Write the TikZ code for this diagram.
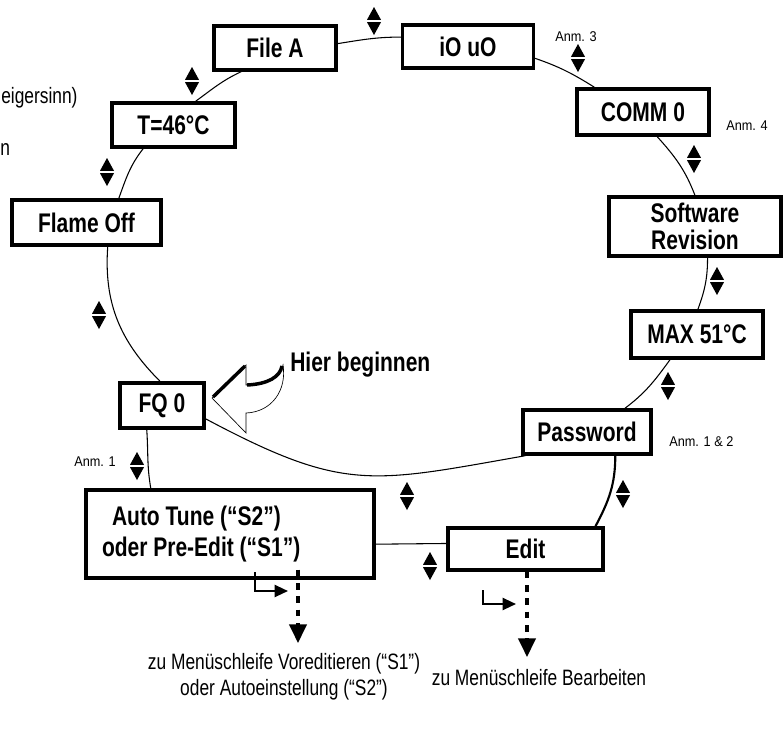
\documentclass[tikz,border=0pt]{standalone}
\usepackage{fontspec}
\setmainfont{Liberation Sans}[FakeStretch=0.78]
\newfontfamily\anmfont{Liberation Sans}[FakeStretch=0.9]
\usetikzlibrary{arrows.meta,calc}

\tikzset{
    menubox/.style={draw, line width=2.6pt, inner sep=0pt, font=\fontsize{20.2}{23}\selectfont\bfseries},
    loopline/.style={line width=0.8pt},
    anm/.style={font=\anmfont\fontsize{10.6}{12}\selectfont, inner sep=0pt, anchor=base west},
    hinweis/.style={font=\fontsize{16.7}{19.5}\selectfont, align=center, inner sep=0pt},
    dotarrow/.style={line width=2.6pt, dash pattern=on 5pt off 5pt, -{Triangle[width=13pt,length=14pt]}},
    bentarrow/.style={line width=1.6pt, -{Triangle[width=9pt,length=10pt]}},
    updown/.pic={
        \fill (-7,1.2) -- (7,1.2) -- (0,14) -- cycle;
        \fill (-7,-1.2) -- (7,-1.2) -- (0,-14) -- cycle;
    }
}

\begin{document}
\begin{tikzpicture}[x=0.75pt, y=0.75pt]
        \useasboundingbox (0,0) rectangle (783,-740);
        \fill[white] (0,0) rectangle (783,-740);

        \node[menubox, minimum width=91.5pt, minimum height=33pt] (fileA) at (275,-48) {File A};
        \node[menubox, minimum width=98pt, minimum height=32.5pt] (iouo) at (468,-46.5) {iO uO};
        \node[menubox, minimum width=99pt, minimum height=34.5pt] (comm) at (643,-112) {COMM 0};
        \node[menubox, minimum width=129pt, minimum height=44pt, align=center,
            font=\fontsize{20.2}{20.25}\selectfont\bfseries] (softrev) at (695,-226.5) {Software\\Revision};
        \node[menubox, minimum width=99pt, minimum height=35pt] (maxT) at (697,-334.5) {MAX 51°C};
        \node[menubox, minimum width=96pt, minimum height=33pt] (password) at (587,-432) {Password};
        \node[menubox, minimum width=116pt, minimum height=31.5pt] (edit) at (525.5,-549) {Edit};
        \node[menubox, minimum width=216pt, minimum height=66pt, inner xsep=12pt, text width=192pt,
            align=flush left] (autotune) at (230,-534) {\hspace*{7.5pt}Auto Tune (“S2”)\\oder Pre-Edit (“S1”)};
        \node[menubox, minimum width=63pt, minimum height=34pt] (fq) at (162,-405.5) {FQ 0};
        \node[menubox, minimum width=112pt, minimum height=34pt] (flame) at (86.5,-222.5) {Flame Off};
        \node[menubox, minimum width=92pt, minimum height=33pt] (temp) at (173.5,-125) {T=46°C};

        \draw[loopline] (fileA.4) to[out=9, in=180] (iouo.172);
        \draw[loopline] (iouo.-10) to[out=-19, in=148] (comm.153);
        \draw[loopline] (comm.-60) to[out=-48, in=111] (softrev.north);
        \draw[loopline] (softrev.-68) to[out=-90, in=70] (maxT.88);
        \draw[loopline] (maxT.-137) to[out=-126, in=37] (password.32);
        \draw[loopline] (password.-159) to[out=190, in=-28, looseness=1.25] (fq.-17);
        \draw[loopline, line width=1.6pt] (password.-40) to[out=-90, in=62] (edit.18);
        \draw[loopline] (fq.-122) to[out=-86, in=100] (autotune.150);
        \draw[loopline] (fq.95) to[out=135, in=-94] (flame.-49);
        \draw[loopline] (flame.37) to[out=70, in=232] (temp.-142);
        \draw[loopline] (temp.47) to[out=36, in=205] (fileA.-145);
        \draw[loopline] (autotune.-4) -- (edit.176);

        \foreach \mx/\my in {374/21, 578/58, 694/159, 717/281, 668/386, 623/494,
                             407/496, 430/566, 137/466, 99/315, 107/172, 192/81}
            \pic at (\mx,-\my) {updown};

        \node[font=\fontsize{20.2}{23}\selectfont\bfseries, inner sep=0pt, anchor=base west] (start) at (290,-371) {Hier beginnen};
        \filldraw[fill=white, line width=0.5pt] (212,-398) -- (246,-365) -- (246,-385)
            .. controls (268,-384) and (281,-377) .. (283,-365)
            .. controls (287,-390) and (272,-412) .. (246,-413) -- (246,-433) -- cycle;
        \draw[line width=2.6pt] (213,-397) -- (245,-366);
        \draw[line width=2.6pt] (247,-385) .. controls (268,-384) and (280,-377) .. (282,-366);

        \coordinate (vortip) at (298,-643);
        \coordinate (edittip) at (527,-657);
        \draw[dotarrow] ($(vortip |- autotune.south)+(0,10)$) -- (vortip);
        \draw[dotarrow] (edittip |- edit.south) -- (edittip);

        \coordinate (vorbend) at (255,-572);
        \coordinate (vorbendtip) at (288,-591);
        \draw[bentarrow] (vorbend) |- (vorbendtip);
        \coordinate (editbend) at (483,-590);
        \coordinate (editbendtip) at (516,-604);
        \draw[bentarrow] (editbend) |- (editbendtip);

        \node[hinweis] (vorloop) at (284,-677) {zu Menüschleife Voreditieren (“S1”)\\oder Autoeinstellung (“S2”)};
        \node[hinweis] (editloop) at (539,-678) {zu Menüschleife Bearbeiten};

        \node[anm] (anm3) at (555,-41) {Anm. 3};
        \node[anm] (anm4) at (726,-130) {Anm. 4};
        \node[anm] (anm12) at (669,-446) {Anm. 1 \& 2};
        \node[anm] (anm1) at (74,-466) {Anm. 1};

        \node[font=\fontsize{16.7}{19.5}\selectfont, inner sep=0pt, anchor=base west] (dirtext) at (1,-103) {eigersinn)};
        \node[font=\fontsize{16.7}{19.5}\selectfont, inner sep=0pt, anchor=base west] (ntext) at (0,-155) {n};
    \end{tikzpicture}
\end{document}
